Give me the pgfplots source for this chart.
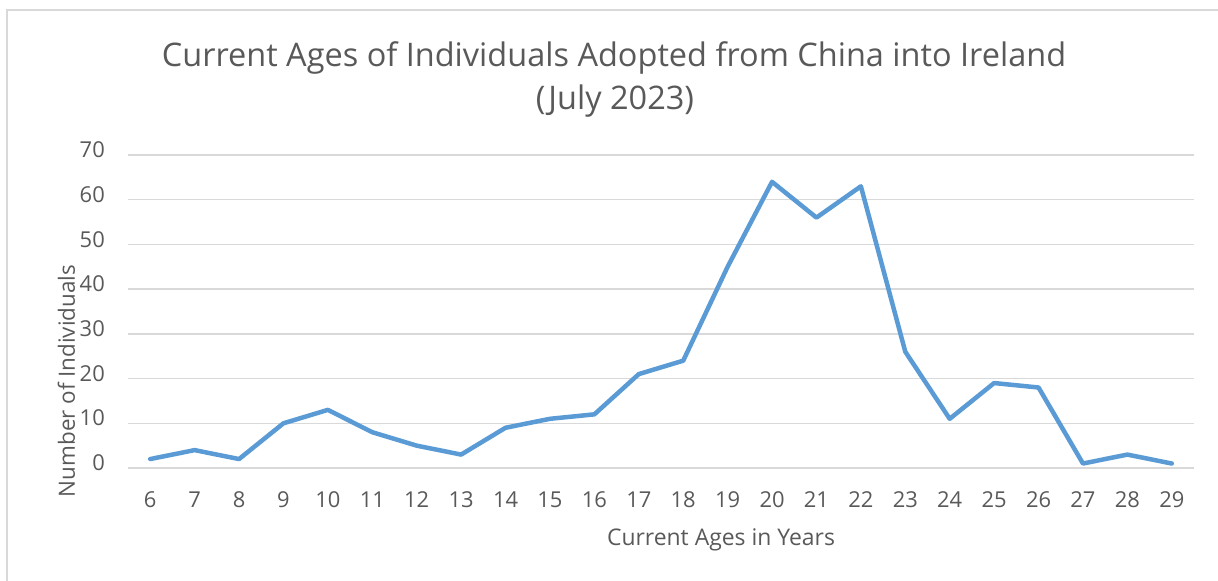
\documentclass[border=0pt]{standalone}
\usepackage{fontspec}
\setmainfont{Open Sans}
\usepackage{pgfplots}
\pgfplotsset{compat=1.18}
\definecolor{linecol}{HTML}{5B9BD5}
\definecolor{gridcol}{HTML}{D9D9D9}
\definecolor{textcol}{HTML}{595959}
\begin{document}
\begin{tikzpicture}
\path[use as bounding box] (-128bp,-113bp) rectangle (1090bp,468bp);
\draw[gridcol, line width=1.5bp] (-121bp,-113bp) -- (-121bp,458bp) -- (1090bp,458bp);
\begin{axis}[
  scale only axis, width=1066bp, height=313bp,
  at={(0,0)}, anchor=south west,
  xmin=5.5, xmax=29.5, ymin=0, ymax=70,
  xtick={6,...,29}, ytick={0,10,...,70},
  ymajorgrids, major grid style={gridcol, line width=1.3bp},
  axis line style={draw=none},
  major tick length=0pt,
  /pgf/number format/assume math mode=true,
  ticklabel style={font=\fontsize{22}{26}\selectfont, text=textcol},
  xticklabel style={anchor=base, inner sep=0pt, yshift=-39bp},
  yticklabel style={anchor=mid east, inner sep=0pt, xshift=-23bp},
  clip=false,
]
\addplot[linecol, line width=4.5bp, line join=round, line cap=round] coordinates {
(6,2) (7,4) (8,2) (9,10) (10,13) (11,8) (12,5) (13,3) (14,9) (15,11) (16,12) (17,21)
(18,24) (19,45) (20,64) (21,56) (22,63) (23,26) (24,11) (25,19) (26,18) (27,1) (28,3) (29,1)
};
\end{axis}
\node[anchor=base, text=textcol, font=\fontsize{32.6}{38}\selectfont] at (486bp,401bp) {Current Ages of Individuals Adopted from China into Ireland};
\node[anchor=base, text=textcol, font=\fontsize{32.6}{38}\selectfont] at (487bp,358bp) {(July 2023)};
\node[anchor=base, text=textcol, font=\fontsize{23}{27}\selectfont] at (593bp,-77bp) {Current Ages in Years};
\node[anchor=base, rotate=90, text=textcol, font=\fontsize{22.5}{27}\selectfont] at (-53bp,87bp) {Number of Individuals};
\end{tikzpicture}
\end{document}
